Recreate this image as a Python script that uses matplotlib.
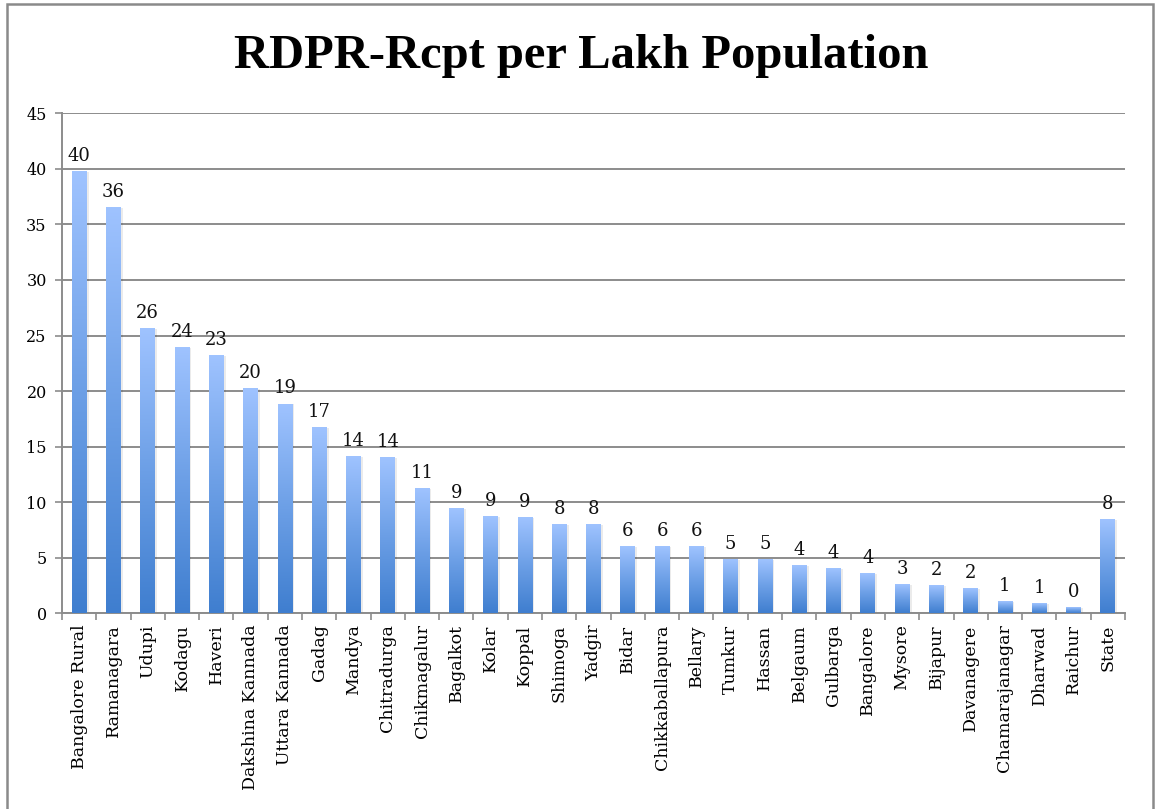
import numpy as np
import matplotlib
matplotlib.use("Agg")
import matplotlib.pyplot as plt
from matplotlib.colors import LinearSegmentedColormap
from matplotlib.patches import Rectangle

# Districts and RDPR receipts per lakh population
districts = [
    "Bangalore Rural", "Ramanagara", "Udupi", "Kodagu", "Haveri",
    "Dakshina Kannada", "Uttara Kannada", "Gadag", "Mandya", "Chitradurga",
    "Chikmagalur", "Bagalkot", "Kolar", "Koppal", "Shimoga", "Yadgir",
    "Bidar", "Chikkaballapura", "Bellary", "Tumkur", "Hassan", "Belgaum",
    "Gulbarga", "Bangalore", "Mysore", "Bijapur", "Davanagere",
    "Chamarajanagar", "Dharwad", "Raichur", "State",
]
rcpt = [
    39.7, 36.45, 25.6, 23.85, 23.2,
    20.2, 18.8, 16.7, 14.05, 13.95,
    11.2, 9.4, 8.67, 8.58, 7.95, 7.95,
    5.97, 5.96, 5.97, 4.8, 4.8, 4.26,
    3.99, 3.54, 2.55, 2.46, 2.19,
    1.02, 0.84, 0.48, 8.4,
]
y_ticks = [0, 5, 10, 15, 20, 25, 30, 35, 40, 45]

serif = ["DejaVu Serif"]
title_font = ["Liberation Serif", "DejaVu Serif"]
grid_col = "#8c8c8c"

fig = plt.figure(figsize=(11.57, 8.09), dpi=100)
ax = fig.add_axes([0.0536, 0.2419, 0.9187, 0.6181])

x = np.arange(len(districts))
bars = ax.bar(x, rcpt, width=0.43, color="none", edgecolor="none", zorder=3)

# vertical gradient inside each bar: light at top, darker at bottom
cmap = LinearSegmentedColormap.from_list("bar", ["#3f7ecf", "#6c9fe6", "#9fc3ff"])
grad = np.linspace(0, 1, 256).reshape(-1, 1)
for b in bars:
    x0, w, h = b.get_x(), b.get_width(), b.get_height()
    # faint shadow on the right
    ax.add_patch(Rectangle((x0 + 0.06, 0), w, h, facecolor="#000000",
                           alpha=0.08, edgecolor="none", zorder=2))
    ax.imshow(grad, cmap=cmap, extent=[x0, x0 + w, 0, h], origin="lower",
              aspect="auto", zorder=3, interpolation="bilinear")

for xi, v in zip(x, rcpt):
    ax.annotate(f"{int(np.floor(v + 0.5))}", (xi, v), xytext=(0, 5),
                textcoords="offset points", ha="center", va="bottom",
                fontsize=13, family=serif, color="#111111")

ax.set_xlim(-0.5, len(districts) - 0.5)
ax.set_ylim(0, 45)
ax.set_yticks(y_ticks)
ax.set_yticklabels([str(t) for t in y_ticks], family=serif, fontsize=11.5)

ax.set_xticks(x)
ax.set_xticklabels(districts, rotation=90, family=serif, fontsize=12.5)
ax.set_xticks(np.arange(len(districts) + 1) - 0.5, minor=True)
ax.tick_params(axis="x", which="major", length=0, pad=8)
ax.tick_params(axis="x", which="minor", length=5, color=grid_col, width=1.2)
ax.tick_params(axis="y", length=5, color=grid_col, width=1.2, pad=6)

ax.yaxis.grid(True, color=grid_col, linewidth=1.4, zorder=0)
ax.set_axisbelow(True)
for s in ["top", "right"]:
    ax.spines[s].set_visible(False)
for s in ["left", "bottom"]:
    ax.spines[s].set_color(grid_col)
    ax.spines[s].set_linewidth(1.4)

fig.text(0.5026, 0.931, "RDPR-Rcpt per Lakh Population", ha="center", va="center",
         fontsize=35, fontweight="bold", family=title_font)

# outer chart border
fig.patches.append(Rectangle((7 / 1157, -0.02), (1152.5 - 7) / 1157, 1.02 - 3.5 / 809,
                             transform=fig.transFigure, fill=False,
                             edgecolor="#8a8a8a", linewidth=1.8))

fig.savefig("out.png", dpi=100)
